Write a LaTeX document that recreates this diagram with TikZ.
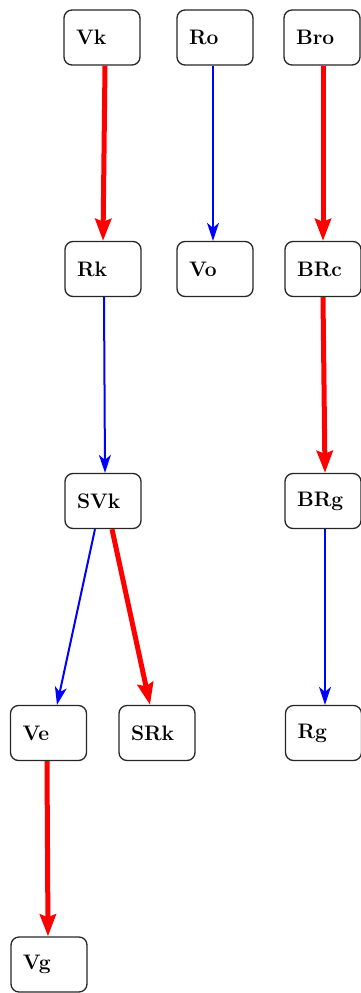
\documentclass[tikz,border=0pt]{standalone}
\usepackage{fontspec}
\usetikzlibrary{arrows.meta}
\begin{document}
\begin{tikzpicture}[x=1pt,y=-1pt,
  box/.style={draw=black!85, line width=1.3pt, rounded corners=8pt, minimum width=76pt, minimum height=55pt,
    text width=52pt, inner xsep=12pt, align=left, font=\fontsize{21}{24}\selectfont\bfseries},
  redarr/.style={draw=red, line width=5pt, -{Stealth[length=22pt,width=16pt,inset=3pt]}},
  bluearr/.style={draw=blue, line width=2pt, -{Stealth[length=18pt,width=12pt,inset=5pt]}}]
\useasboundingbox (0,0) rectangle (360,993);
\node[box] (Vk)  at (102,37.5) {Vk};
\node[box] (Ro)  at (215,37.5) {Ro};
\node[box] (Bro) at (322,37.5) {Bro};
\node[box] (Rk)  at (103,269) {Rk};
\node[box] (Vo)  at (215,269) {Vo};
\node[box] (BRc) at (323,269) {BRc};
\node[box] (SVk) at (103,501) {SVk};
\node[box] (BRg) at (323,501) {BRg};
\node[box] (Ve)  at (48.5,733) {Ve};
\node[box] (SRk) at (157,733) {SRk};
\node[box] (Rg)  at (323.5,733) {Rg};
\node[box] (Vg)  at (49,964.5) {Vg};
\draw[redarr] ([xshift=3pt]Vk.south) -- (Rk.north);
\draw[bluearr] ([xshift=-2pt]Ro.south) -- ([xshift=-2pt]Vo.north);
\draw[redarr] ([xshift=1pt]Bro.south) -- (BRc.north);
\draw[bluearr] ([xshift=1pt]Rk.south) -- ([xshift=2pt]SVk.north);
\draw[redarr] (BRc.south) -- ([xshift=2pt]BRg.north);
\draw[bluearr] ([xshift=-8pt]SVk.south) -- ([xshift=8.5pt]Ve.north);
\draw[redarr] ([xshift=9pt]SVk.south) -- ([xshift=-7pt]SRk.north);
\draw[bluearr] ([xshift=2pt]BRg.south) -- ([xshift=1.5pt]Rg.north);
\draw[redarr] ([xshift=-1.5pt]Ve.south) -- ([xshift=-1pt]Vg.north);
\end{tikzpicture}
\end{document}
